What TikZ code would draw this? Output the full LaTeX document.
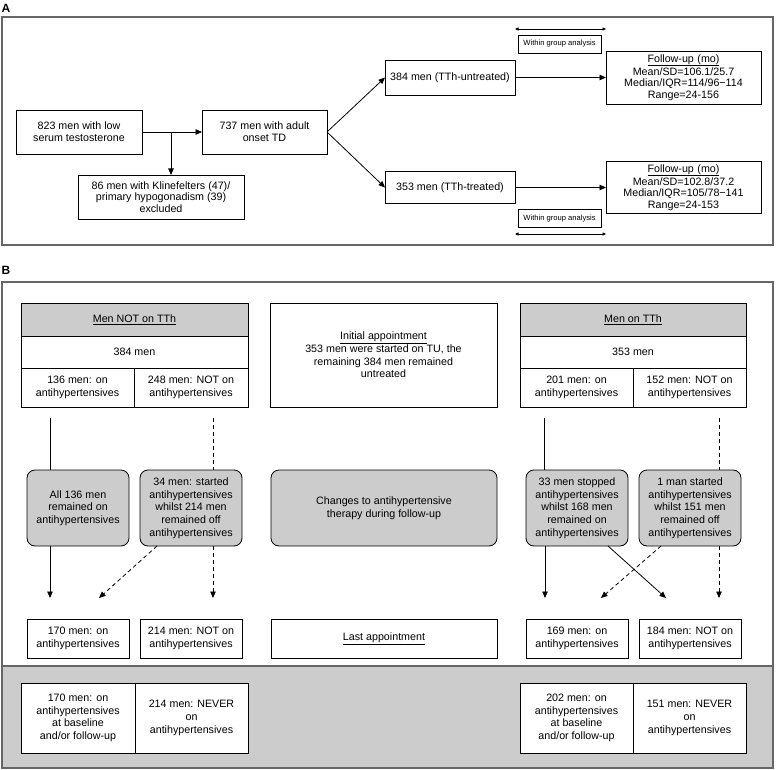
\documentclass[tikz,border=0pt]{standalone}
\usepackage{fontspec}
\setmainfont{Liberation Sans}
\usetikzlibrary{arrows.meta}
\begin{document}
\begin{tikzpicture}[x=1pt,y=-1pt,
  bx/.style={draw, line width=0.8pt, inner sep=0pt, outer sep=0pt, align=center, fill=white, font=\fontsize{10.7}{12.7}\selectfont},
  abx/.style={bx, font=\fontsize{10.7}{11.7}\selectfont},
  hdr/.style={bx, fill=gray!40},
  rbx/.style={bx, rounded corners=8pt, fill=gray!40},
  wg/.style={draw, line width=0.7pt, inner sep=0pt, outer sep=0pt, fill=white, font=\fontsize{7.6}{9}\selectfont},
  arr/.style={line width=0.8pt, -{Triangle[length=6.5pt,width=5.5pt]}},
  dbl/.style={line width=0.7pt, {Triangle[length=3.5pt,width=3pt]}-{Triangle[length=3.5pt,width=3pt]}},
  ln/.style={line width=0.8pt},
  dsh/.style={dash pattern=on 4pt off 3pt},
  frm/.style={draw=black!60, line width=1.3pt},
  lbl/.style={inner sep=0pt, font=\fontsize{12}{12}\selectfont\bfseries}
]
\useasboundingbox (0,0) rectangle (776,770);
% ---------------- Panel A ----------------
\node[lbl] (labA) at (6,8) {A};
\draw[frm] (2,17) rectangle (773,245);
\node[abx, minimum width=126, minimum height=44] (n823) at (79,132) {823 men with low\\serum testosterone};
\node[abx, minimum width=125, minimum height=44] (n737) at (264.5,132) {737 men with adult\\onset TD};
\node[abx, minimum width=166, minimum height=44] (n86) at (161,197) {86 men with Klinefelters (47)/\\primary hypogonadism (39)\\excluded};
\node[abx, minimum width=130, minimum height=35] (n384) at (450,77.5) {384 men (TTh-untreated)};
\node[abx, minimum width=130, minimum height=32] (n353) at (450,187.5) {353 men (TTh-treated)};
\node[abx, text width=155, minimum height=53] (fu1) at (683.5,77.5) {\underline{Follow-up (mo)}\\Mean/SD=106.1/25.7\\Median/IQR=114/96−114\\Range=24-156};
\node[abx, text width=155, minimum height=52] (fu2) at (683.5,187.5) {\underline{Follow-up (mo)}\\Mean/SD=102.8/37.2\\Median/IQR=105/78−141\\Range=24-153};
\node[wg, minimum width=83, minimum height=18] (wg1) at (559.5,44) {Within group analysis};
\node[wg, minimum width=83, minimum height=18] (wg2) at (559.5,218.5) {Within group analysis};
\coordinate (d1a) at (515,29); \coordinate (d1b) at (606,29);
\coordinate (d2a) at (515,234); \coordinate (d2b) at (606,234);
\coordinate (br) at (171,132);
\draw[arr] (n823.east) -- (n737.west);
\draw[arr] (br) -- (br |- n86.north);
\draw[arr] (n737.east) -- (n384.west);
\draw[arr] (n737.east) -- (n353.west);
\draw[arr] (n384.east) -- (fu1.west);
\draw[arr] (n353.east) -- (fu2.west);
\draw[dbl] (d1a) -- (d1b);
\draw[dbl] (d2a) -- (d2b);
% ---------------- Panel B ----------------
\node[lbl] (labB) at (6,270) {B};
\fill[gray!40] (2,666) rectangle (773,768);
\draw[frm] (2,282) rectangle (773,768);
\draw[frm] (2,666) -- (773,666);
% left table
\node[hdr, minimum width=227, minimum height=33] (tLh) at (134.5,319.5) {\underline{Men NOT on TTh}};
\node[bx, minimum width=227, minimum height=32] (tLm) at (134.5,352) {384 men};
\node[bx, minimum width=113, minimum height=39] (tLa) at (77.5,387.5) {136 men: on\\antihypertensives};
\node[bx, minimum width=114, minimum height=39] (tLb) at (191,387.5) {248 men: NOT on\\antihypertensives};
% centre
\node[bx, minimum width=227, minimum height=104] (ctop) at (383.5,355) {\underline{Initial appointment}\\353 men were started on TU, the\\remaining 384 men remained\\untreated};
% right table
\node[hdr, minimum width=226, minimum height=33] (tRh) at (633,319.5) {\underline{Men on TTh}};
\node[bx, minimum width=226, minimum height=32] (tRm) at (633,352) {353 men};
\node[bx, minimum width=113, minimum height=39] (tRa) at (576.5,387.5) {201 men: on\\antihypertensives};
\node[bx, minimum width=113, minimum height=39] (tRb) at (689.5,387.5) {152 men: NOT on\\antihypertensives};
% rounded boxes
\node[rbx, minimum width=102, minimum height=76] (rL1) at (78,508) {All 136 men\\remained on\\antihypertensives};
\node[rbx, minimum width=102, minimum height=76] (rL2) at (191,508) {34 men: started\\antihypertensives\\whilst 214 men\\remained off\\antihypertensives};
\node[rbx, minimum width=226, minimum height=76] (rC) at (384,508) {Changes to antihypertensive\\therapy during follow-up};
\node[rbx, minimum width=102, minimum height=76] (rR1) at (577,508) {33 men stopped\\antihypertensives\\whilst 168 men\\remained on\\antihypertensives};
\node[rbx, minimum width=102, minimum height=76] (rR2) at (690,508) {1 man started\\antihypertensives\\whilst 151 men\\remained off\\antihypertensives};
% last appointment row
\node[bx, minimum width=102, minimum height=39] (lL1) at (78,638.5) {170 men: on\\antihypertensives};
\node[bx, minimum width=102, minimum height=39] (lL2) at (191,638.5) {214 men: NOT on\\antihypertensives};
\node[bx, minimum width=226, minimum height=39] (lC) at (384,638.5) {\underline{Last appointment}};
\node[bx, minimum width=102, minimum height=39] (lR1) at (577,638.5) {169 men: on\\antihypertensives};
\node[bx, minimum width=102, minimum height=39] (lR2) at (690,638.5) {184 men: NOT on\\antihypertensives};
% bottom tables
\node[bx, minimum width=114, minimum height=70] (bL1) at (78,718) {170 men: on\\antihypertensives\\at baseline\\and/or follow-up};
\node[bx, minimum width=113, minimum height=70] (bL2) at (191.5,718) {214 men: NEVER\\on\\antihypertensives};
\node[bx, minimum width=113, minimum height=70] (bR1) at (576.5,718) {202 men: on\\antihypertensives\\at baseline\\and/or follow-up};
\node[bx, minimum width=113, minimum height=70] (bR2) at (689.5,718) {151 men: NEVER\\on\\antihypertensives};
% connector coordinates
\coordinate (sL1) at (50,418);
\coordinate (sL2) at (213,418);
\coordinate (sR1) at (544,418);
\coordinate (sR2) at (719,418);
\coordinate (eL1) at (50,598);
\coordinate (eL2) at (99,598);
\coordinate (eL3) at (213,598);
\coordinate (eR1) at (545,598);
\coordinate (eR2) at (601,598);
\coordinate (eR3) at (666,598);
\coordinate (eR4) at (719,598);
\coordinate (oL2) at (157,546);
\coordinate (oR1) at (608,546);
\coordinate (oR2) at (661,546);
% top connectors
\draw[ln] (sL1) -- (sL1 |- rL1.north);
\draw[ln,dsh] (sL2) -- (sL2 |- rL2.north);
\draw[ln] (sR1) -- (sR1 |- rR1.north);
\draw[ln,dsh] (sR2) -- (sR2 |- rR2.north);
% bottom arrows
\draw[arr] (eL1 |- rL1.south) -- (eL1);
\draw[arr,dsh] (oL2) -- (eL2);
\draw[arr,dsh] (eL3 |- rL2.south) -- (eL3);
\draw[arr] (eR1 |- rR1.south) -- (eR1);
\draw[arr] (oR1) -- (eR3);
\draw[arr,dsh] (oR2) -- (eR2);
\draw[arr,dsh] (eR4 |- rR2.south) -- (eR4);
\end{tikzpicture}
\end{document}
